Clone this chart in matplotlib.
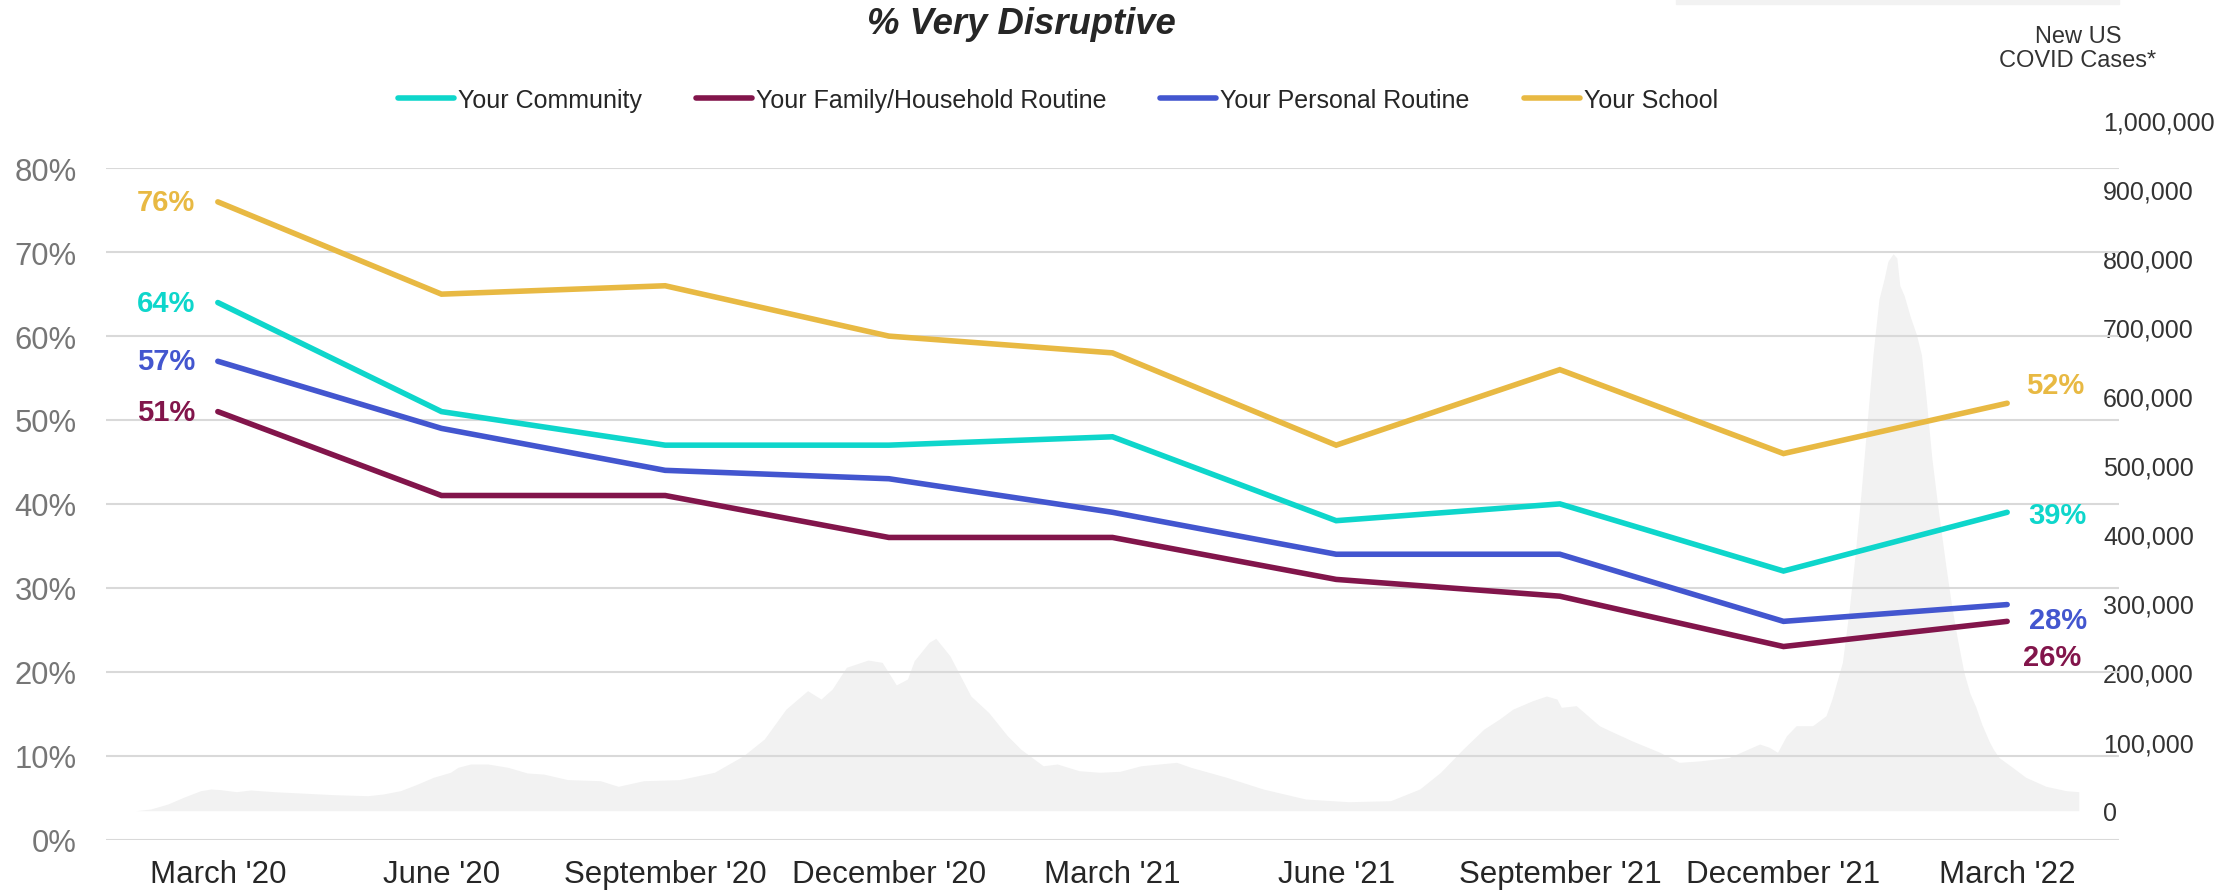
import matplotlib
matplotlib.use('Agg')
import matplotlib.pyplot as plt
from matplotlib.patches import Rectangle
import numpy as np

plt.rcParams['font.family'] = ['Liberation Sans', 'DejaVu Sans']

# ---------------- data ----------------
periods = ["March '20", "June '20", "September '20", "December '20", "March '21",
           "June '21", "September '21", "December '21", "March '22"]
community = [64, 51, 47, 47, 48, 38, 40, 32, 39]
family = [51, 41, 41, 36, 36, 31, 29, 23, 26]
personal = [57, 49, 44, 43, 39, 34, 34, 26, 28]
school = [76, 65, 66, 60, 58, 47, 56, 46, 52]

series_names = ["Your Community", "Your Family/Household Routine", "Your Personal Routine", "Your School"]

# New US COVID cases (months after March 2020, daily cases)
case_months = [-1.10, -0.90, -0.67, -0.46, -0.23, -0.09, 0.04, 0.25, 0.44, 0.75,
               1.11, 1.55, 2.01, 2.22, 2.45, 2.68, 2.89, 3.12, 3.22, 3.39,
               3.62, 3.89, 4.15, 4.37, 4.69, 5.13, 5.37, 5.71, 6.19, 6.66,
               7.05, 7.33, 7.62, 7.91, 8.09, 8.24, 8.43, 8.72, 8.91, 9.10,
               9.25, 9.34, 9.54, 9.63, 9.82, 10.10, 10.34, 10.59, 10.77, 11.07,
               11.26, 11.55, 11.83, 12.10, 12.38, 12.86, 13.05, 13.53, 14.02, 14.59,
               15.17, 15.73, 16.12, 16.40, 16.70, 16.98, 17.19, 17.37, 17.63, 17.82,
               17.96, 18.02, 18.22, 18.53, 18.67, 18.97, 19.34, 19.60, 19.87, 20.27,
               20.68, 20.81, 20.92, 21.04, 21.17, 21.39, 21.57, 21.65, 21.79, 21.88,
               21.96, 22.04, 22.12, 22.20, 22.28, 22.35, 22.40, 22.47, 22.52, 22.56,
               22.62, 22.70, 22.78, 22.85, 22.91, 22.99, 23.07, 23.17, 23.25, 23.33,
               23.42, 23.50, 23.58, 23.66, 23.76, 23.82, 23.89, 24.07, 24.25, 24.52,
               24.79, 24.96]
case_counts = [0, 2500, 9700, 19400, 29000, 31400, 30400, 27500, 30000, 27500,
               25600, 23200, 21700, 24200, 29000, 38600, 48300, 55600, 62800, 67600,
               67600, 62800, 54600, 53000, 45000, 43400, 35300, 43400, 44900, 55600,
               79600, 103800, 147000, 173700, 161600, 176000, 207500, 218000, 214700, 182000,
               190600, 217000, 243700, 249500, 224000, 166000, 142000, 108500, 89000, 65000,
               67600, 57900, 55600, 57000, 65000, 70000, 62800, 48300, 31400, 16900,
               13000, 14500, 31400, 55600, 89000, 118000, 132700, 147000, 159000, 166000,
               161600, 149600, 152000, 123000, 115800, 101000, 84500, 70000, 72000, 77000,
               96500, 91700, 84500, 108500, 123000, 123000, 137500, 161600, 214700, 290000,
               370000, 460000, 560000, 660000, 740000, 770000, 795000, 806000, 800000, 760000,
               745000, 715000, 690000, 660000, 600000, 510000, 440000, 360000, 300000, 250000,
               200000, 170000, 150000, 125000, 100000, 88000, 77000, 62800, 48300, 35300,
               29000, 27500]

pct_ticks = [0, 10, 20, 30, 40, 50, 60, 70, 80]
case_ticks = [0, 100000, 200000, 300000, 400000, 500000, 600000, 700000, 800000, 900000, 1000000]

# ---------------- style ----------------
colors = ['#0ED6CB', '#82154B', '#4356CF', '#E8B943']
W, H = 2240, 895
fig = plt.figure(figsize=(W / 100, H / 100), dpi=100)


def fx(px):
    return px / W


def fy(py):
    return 1 - py / H


AX_L, AX_R = 106, 2119
ax1 = fig.add_axes([fx(AX_L), fy(840.5), (AX_R - AX_L) / W, (840.5 - 169.3) / H])
ax2 = fig.add_axes([fx(AX_L), fy(811.7), (AX_R - AX_L) / W, (811.7 - 120.7) / H])

x = np.arange(len(periods))
xlim = (-0.5, len(periods) - 0.5)

# ---- cases area (background axes) ----
ax2.set_zorder(1)
ax1.set_zorder(2)
ax1.patch.set_visible(False)
ax2.patch.set_visible(False)
ax2.fill_between(np.array(case_months) / 3.0, case_counts, 0, color='#f2f2f2', lw=0)
ax2.set_xlim(*xlim)
ax2.set_ylim(0, 1000000)
ax2.set_xticks([])
ax2.yaxis.tick_right()
ax2.set_yticks(case_ticks)
ax2.set_yticklabels([f'{t:,}' for t in case_ticks])
ax2.tick_params(axis='y', length=0, pad=-16 * 0.72, labelsize=18, labelcolor='#333333')
for lab in ax2.get_yticklabels():
    lab.set_horizontalalignment('left')
for s in ax2.spines.values():
    s.set_visible(False)

# ---- survey lines ----
ax1.set_xlim(*xlim)
ax1.set_ylim(0, 80)
ax1.set_axisbelow(True)
ax1.yaxis.grid(True, color='#d9d9d9', lw=1.5)
ax1.set_yticks(pct_ticks)
ax1.set_yticklabels([f'{t}%' for t in pct_ticks])
ax1.tick_params(axis='y', length=0, pad=21, labelsize=22.3, labelcolor='#767676')
ax1.set_xticks(x)
ax1.set_xticklabels(periods)
ax1.tick_params(axis='x', length=0, pad=14, labelsize=22.5, labelcolor='#262626')
for s in ax1.spines.values():
    s.set_visible(False)

all_series = [community, family, personal, school]
handles = []
for vals, c, name in zip(all_series, colors, series_names):
    h, = ax1.plot(x, vals, color=c, lw=4.0, solid_capstyle='round', solid_joinstyle='miter', label=name, zorder=3)
    handles.append(h)
    ax1.annotate(f'{vals[0]}%', (x[0], vals[0]), xytext=(-23, 0), textcoords='offset pixels',
                 ha='right', va='center', fontsize=21, fontweight='bold', color=c)

end_offsets = [(21, -3), (16, -36), (22, -15), (19, 18)]
for vals, c, off in zip(all_series, colors, end_offsets):
    ax1.annotate(f'{vals[-1]}%', (x[-1], vals[-1]), xytext=off, textcoords='offset pixels',
                 ha='left', va='center', fontsize=21, fontweight='bold', color=c)

# ---- legend ----
fig.legend(handles=handles, loc='center', bbox_to_anchor=(fx(1058), fy(101)),
           bbox_transform=fig.transFigure, ncol=4, frameon=False, fontsize=18,
           handlelength=2.24, handletextpad=0.16, columnspacing=2.16, labelcolor='#262626')

# ---- texts ----
fig.text(fx(867), fy(24.5), '% Very Disruptive', ha='left', va='center', fontsize=26.3,
         fontweight='bold', fontstyle='italic', color='#262626')
fig.text(fx(2078), fy(49), 'New US\nCOVID Cases*', ha='center', va='center', fontsize=17,
         linespacing=1.17, color='#333333')
fig.patches.append(Rectangle((fx(1676), fy(5)), (AX_R - 1676) / W, 5 / H, transform=fig.transFigure,
                             color='#f2f2f2', zorder=0))

fig.savefig('out.png', dpi=100)
